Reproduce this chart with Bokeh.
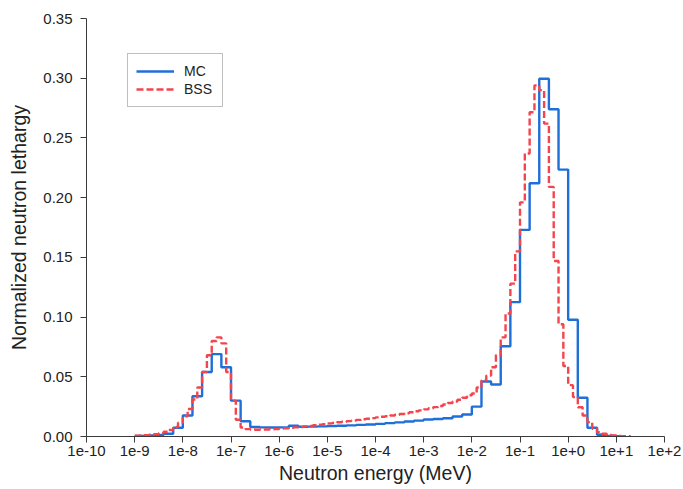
import numpy as np
from bokeh.plotting import figure
from bokeh.models import (Range1d, FixedTicker, CustomJSTickFormatter,
                          NumeralTickFormatter, Legend, LegendItem)
from bokeh.embed import file_html
from bokeh.resources import INLINE

# ---------------- data ----------------
# MC spectrum: 5 bins per decade, first bin edge at 1e-9 MeV
mc_log_start = -9.0
mc_log_step = 0.2
mc_values = [
    0.0005, 0.0008, 0.0012, 0.0023, 0.0073,   # -9.0 .. -8.2
    0.0176, 0.0337, 0.0540, 0.0690, 0.0580,   # -8.0 .. -7.2
    0.0300, 0.0128, 0.0080, 0.0076, 0.0075,   # -7.0 .. -6.2
    0.0076, 0.0090, 0.0082, 0.0083, 0.0085,   # -6.0 .. -5.2
    0.0088, 0.0090, 0.0093, 0.0097, 0.0101,   # -5.0 .. -4.2
    0.0106, 0.0112, 0.0118, 0.0125, 0.0133,   # -4.0 .. -3.2
    0.0142, 0.0147, 0.0153, 0.0167, 0.0184,   # -3.0 .. -2.2
    0.0250, 0.0460, 0.0435, 0.0756, 0.1125,   # -2.0 .. -1.2
    0.1730, 0.2120, 0.2995, 0.2740, 0.2235,   # -1.0 .. -0.2
    0.0977, 0.0324, 0.0073, 0.0015, 0.0005,   #  0.0 ..  0.8
    0.0002,                                   #  1.0
]

# BSS unfolded spectrum: 10 bins per decade, first bin edge at 1e-9 MeV
bss_log_start = -9.0
bss_log_step = 0.1
bss_values = [
    0.0006, 0.0008, 0.0011, 0.0015, 0.0020, 0.0028, 0.0040, 0.0055, 0.0080, 0.0115,
    0.0170, 0.0230, 0.0310, 0.0410, 0.0540, 0.0680, 0.0800, 0.0830, 0.0780, 0.0540,
    0.0300, 0.0140, 0.0075, 0.0062, 0.0058, 0.0057, 0.0058, 0.0059, 0.0061, 0.0063,
    0.0066, 0.0069, 0.0072, 0.0076, 0.0080, 0.0085, 0.0089, 0.0094, 0.0099, 0.0104,
    0.0110, 0.0114, 0.0119, 0.0124, 0.0129, 0.0134, 0.0139, 0.0144, 0.0149, 0.0154,
    0.0160, 0.0165, 0.0170, 0.0176, 0.0182, 0.0188, 0.0195, 0.0203, 0.0211, 0.0219,
    0.0227, 0.0236, 0.0246, 0.0256, 0.0268, 0.0280, 0.0293, 0.0308, 0.0325, 0.0345,
    0.0360, 0.0410, 0.0470, 0.0510, 0.0580, 0.0680, 0.0830, 0.1030, 0.1280, 0.1550,
    0.1960, 0.2370, 0.2715, 0.2940, 0.2900, 0.2620, 0.2090, 0.1470, 0.0940, 0.0590,
    0.0430, 0.0330, 0.0245, 0.0176, 0.0120, 0.0064, 0.0036, 0.0023, 0.0012, 0.0008,
    0.0005, 0.0003, 0.0002,
]

x_tick_exponents = list(range(-10, 3))
y_ticks = [0.00, 0.05, 0.10, 0.15, 0.20, 0.25, 0.30, 0.35]
series_labels = ["MC", "BSS"]


def bin_edges(start, step, n):
    return [10.0 ** round(start + step * k, 6) for k in range(n + 1)]


mc_edges = bin_edges(mc_log_start, mc_log_step, len(mc_values))
bss_edges = bin_edges(bss_log_start, bss_log_step, len(bss_values))

# ---------------- figure ----------------
FONT = "Liberation Sans"
AX_COLOR = "#3a3a3a"

p = figure(width=683, height=489, x_axis_type="log",
           x_range=Range1d(1e-10, 1e2), y_range=Range1d(0, 0.35),
           output_backend="svg", toolbar_location=None,
           min_border_left=86, min_border_right=19,
           min_border_top=18, min_border_bottom=53)

p.outline_line_color = None
p.xgrid.visible = False
p.ygrid.visible = False
p.background_fill_color = "white"
p.border_fill_color = "white"

r_mc = p.step(x=mc_edges, y=mc_values + [mc_values[-1]], mode="after",
              line_color="#1f6fd8", line_width=2.4)
r_bss = p.step(x=bss_edges, y=bss_values + [bss_values[-1]], mode="after",
               line_color="#f4454d", line_width=2.4, line_dash="7 3")

# axes
xa = p.xaxis[0]
xa.ticker = FixedTicker(ticks=[10.0 ** e for e in x_tick_exponents])
xa.formatter = CustomJSTickFormatter(code="""
const e = Math.round(Math.log10(tick));
return "1e" + (e >= 0 ? "+" : "") + e;
""")
xa.axis_label = "Neutron energy (MeV)"

ya = p.yaxis[0]
ya.ticker = FixedTicker(ticks=y_ticks)
ya.formatter = NumeralTickFormatter(format="0.00")
ya.axis_label = "Normalized neutron lethargy"

for ax in (xa, ya):
    ax.axis_line_color = AX_COLOR
    ax.axis_line_width = 1
    ax.major_tick_line_color = AX_COLOR
    ax.major_tick_in = 0
    ax.major_tick_out = 6
    ax.minor_tick_line_color = None
    ax.major_label_text_font = FONT
    ax.major_label_text_font_size = "15px"
    ax.major_label_text_color = "#222222"
    ax.axis_label_text_font = FONT
    ax.axis_label_text_font_size = "19.5px"
    ax.axis_label_text_font_style = "normal"
    ax.axis_label_text_color = "#222222"

xa.major_label_standoff = 3
xa.axis_label_standoff = 3
ya.major_label_standoff = 8
ya.axis_label_standoff = 10

legend = Legend(items=[LegendItem(label=series_labels[0], renderers=[r_mc]),
                       LegendItem(label=series_labels[1], renderers=[r_bss])],
                location=(41, 329))
legend.border_line_color = "#808080"
legend.border_line_width = 1
legend.background_fill_color = "white"
legend.background_fill_alpha = 1.0
legend.label_text_font = FONT
legend.label_text_font_size = "14px"
legend.label_text_color = "#222222"
legend.glyph_width = 38
legend.glyph_height = 18
legend.label_height = 18
legend.label_width = 30
legend.label_standoff = 10
legend.padding = 8
legend.spacing = 0
legend.margin = 0
p.add_layout(legend)

open("out.html", "w").write(file_html(p, INLINE))
